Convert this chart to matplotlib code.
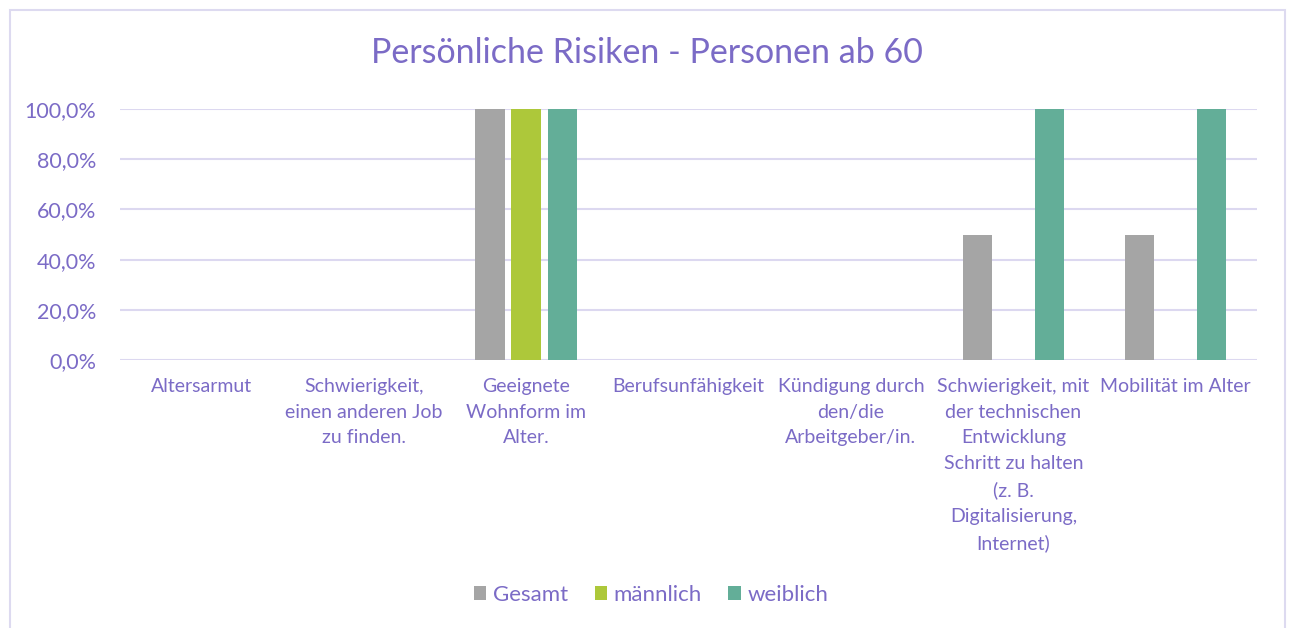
import numpy as np
import matplotlib.pyplot as plt
from matplotlib.patches import Rectangle
from matplotlib.ticker import FuncFormatter

plt.rcParams['font.family'] = ['Lato', 'DejaVu Sans']

# data
categories = ['Altersarmut',
              'Schwierigkeit,\neinen anderen Job\nzu finden.',
              'Geeignete\nWohnform im\nAlter.',
              'Berufsunfähigkeit',
              'Kündigung durch\nden/die\nArbeitgeber/in.',
              'Schwierigkeit, mit\nder technischen\nEntwicklung\nSchritt zu halten\n(z. B.\nDigitalisierung,\nInternet)',
              'Mobilität im Alter']
gesamt = [0, 0, 100, 0, 0, 50, 50]
maennlich = [0, 0, 100, 0, 0, 0, 0]
weiblich = [0, 0, 100, 0, 0, 100, 100]
series_names = ['Gesamt', 'männlich', 'weiblich']

purple = '#7B6BC6'
grid_col = '#DCD8F0'
colors = ['#A5A5A5', '#ADC83A', '#63AE98']

fig = plt.figure(figsize=(12.9, 6.28), dpi=100)
ax = fig.add_axes([120 / 1290, 1 - 360 / 628, 1137 / 1290, 251 / 628])

# chart frame
fig.patches.append(Rectangle((10 / 1290, -0.01), 1275 / 1290, 1 - 10 / 628 + 0.01,
                             transform=fig.transFigure, fill=False,
                             edgecolor='#DDDAF0', linewidth=1.5))

x = np.arange(len(categories))
w = 0.18
step = 0.222
for i, (vals, c, name) in enumerate(zip([gesamt, maennlich, weiblich], colors, series_names)):
    ax.bar(x + (i - 1) * step, vals, width=w, color=c, label=name, zorder=3)

ax.set_xlim(-0.5, len(categories) - 0.5)
ax.set_ylim(0, 100)
ax.set_yticks(np.arange(0, 101, 20))
ax.yaxis.set_major_formatter(FuncFormatter(lambda v, p: f'{v:.1f}%'.replace('.', ',')))
ax.grid(axis='y', color=grid_col, linewidth=1.5, zorder=0)
for s in ax.spines.values():
    s.set_visible(False)
ax.tick_params(axis='y', length=0, pad=17, labelsize=15.5, labelcolor=purple)
ax.set_xticks(x)
ax.set_xticklabels(categories, fontsize=14, color=purple, linespacing=1.62, va='top')
ax.tick_params(axis='x', length=0, pad=13)

fig.text(647 / 1290, 1 - 53 / 628, 'Persönliche Risiken - Personen ab 60',
         ha='center', va='center', fontsize=24.5, color=purple)

leg = fig.legend(loc='center', bbox_to_anchor=(651 / 1290, 1 - 595 / 628), ncol=3,
                 frameon=False, fontsize=16, handlelength=0.55, handleheight=0.55,
                 handletextpad=0.3, columnspacing=1.2)
for t in leg.get_texts():
    t.set_color(purple)

fig.savefig('out.png', dpi=100)
